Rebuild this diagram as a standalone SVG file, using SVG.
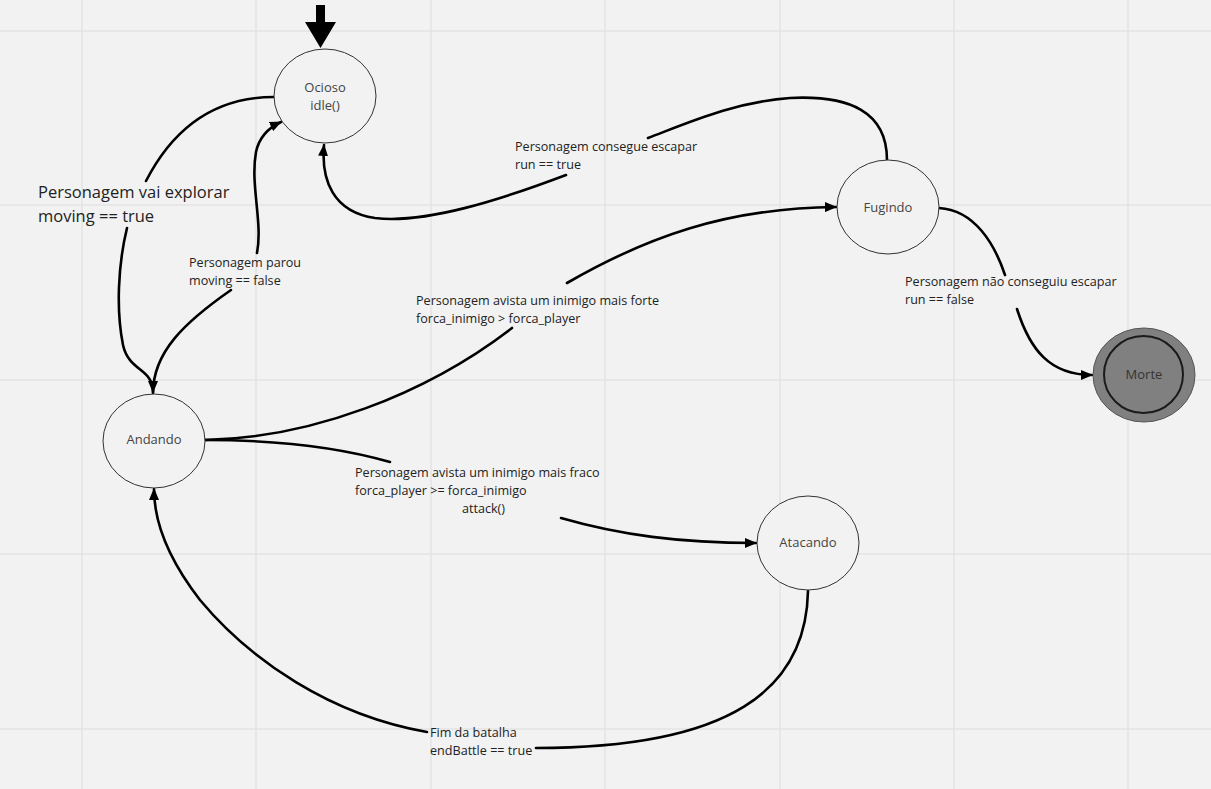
<svg xmlns="http://www.w3.org/2000/svg" width="1211" height="789" viewBox="0 0 1211 789">
  <style>
    .grid line { stroke: #e3e3e3; stroke-width: 1.5; }
    .state { fill: #f2f2f2; stroke: #333; stroke-width: 1; }
    .state-label { font-family: "Open Sans", "Liberation Sans", sans-serif; font-size: 13px; fill: #444; text-anchor: middle; }
    .edge { fill: none; stroke: #000; stroke-width: 2.6; stroke-linecap: round; }
    .edge-label { font-family: "Open Sans", "Liberation Sans", sans-serif; font-size: 12.6px; fill: #222; }
    .big-label { font-family: "Open Sans", "Liberation Sans", sans-serif; font-size: 16.5px; fill: #222; }
  </style>
  <defs>
    <marker id="arrow" viewBox="0 0 12 10" refX="11" refY="5" markerWidth="12" markerHeight="10" markerUnits="userSpaceOnUse" orient="auto">
      <path d="M0,0 L12,5 L0,10 Z" fill="#000"/>
    </marker>
  </defs>

  <!-- canvas -->
  <rect width="1211" height="789" fill="#f2f2f2"/>
  <g class="grid">
    <line x1="82" y1="0" x2="82" y2="789"/>
    <line x1="256" y1="0" x2="256" y2="789"/>
    <line x1="431" y1="0" x2="431" y2="789"/>
    <line x1="605" y1="0" x2="605" y2="789"/>
    <line x1="780" y1="0" x2="780" y2="789"/>
    <line x1="954" y1="0" x2="954" y2="789"/>
    <line x1="1128" y1="0" x2="1128" y2="789"/>
    <line x1="0" y1="31" x2="1211" y2="31"/>
    <line x1="0" y1="205" x2="1211" y2="205"/>
    <line x1="0" y1="380" x2="1211" y2="380"/>
    <line x1="0" y1="554" x2="1211" y2="554"/>
    <line x1="0" y1="729" x2="1211" y2="729"/>
  </g>

  <!-- transitions -->
  <g id="connectors">
    <!-- initial state -->
    <polygon points="316,5 325,5 325,22 336,22 320.5,48 305,22 316,22" fill="#000"/>

    <!-- Ocioso -> Andando -->
    <path class="edge" d="M274,97 C228,97 180,115 146,181"/>
    <path class="edge" d="M127,228 C118,265 116,310 123,345 C129,372 153,368 153,392" marker-end="url(#arrow)"/>

    <!-- Andando -> Ocioso -->
    <path class="edge" d="M153,393 C153,352 185,322 231,290"/>
    <path class="edge" d="M257,253 C263,222 250,185 256,152 C259,138 268,128 281,122" marker-end="url(#arrow)"/>

    <!-- Fugindo -> Ocioso -->
    <path class="edge" d="M887,160 C887,112 850,95 790,98 C735,102 690,122 648,138"/>
    <path class="edge" d="M566,175 C500,200 425,224 375,218 C333,212 321,180 324,145" marker-end="url(#arrow)"/>

    <!-- Andando -> Fugindo -->
    <path class="edge" d="M205,440 C310,438 425,395 512,328"/>
    <path class="edge" d="M567,283 C645,238 725,208 836,207" marker-end="url(#arrow)"/>

    <!-- Andando -> Atacando -->
    <path class="edge" d="M205,440 C285,440 345,449 390,462"/>
    <path class="edge" d="M561,518 C620,535 680,543 756,543" marker-end="url(#arrow)"/>

    <!-- Atacando -> Andando -->
    <path class="edge" d="M808,591 C806,690 730,748 536,748"/>
    <path class="edge" d="M427,732 C330,715 250,660 200,600 C166,556 154,520 154,489" marker-end="url(#arrow)"/>

    <!-- Fugindo -> Morte -->
    <path class="edge" d="M939,208 C975,210 995,245 1005,275"/>
    <path class="edge" d="M1017,309 C1030,350 1050,375 1092,375" marker-end="url(#arrow)"/>
  </g>

  <!-- transition labels -->
  <g id="labels">
    <text class="big-label" x="38" y="198">Personagem vai explorar</text>
    <text class="big-label" x="38" y="222">moving == true</text>
    <text class="edge-label" x="189" y="267">Personagem parou</text>
    <text class="edge-label" x="189" y="285">moving == false</text>
    <text class="edge-label" x="515" y="151">Personagem consegue escapar</text>
    <text class="edge-label" x="515" y="169">run == true</text>
    <text class="edge-label" x="416" y="305">Personagem avista um inimigo mais forte</text>
    <text class="edge-label" x="416" y="323">forca_inimigo &gt; forca_player</text>
    <text class="edge-label" x="355" y="477">Personagem avista um inimigo mais fraco</text>
    <text class="edge-label" x="355" y="495">forca_player &gt;= forca_inimigo</text>
    <text class="edge-label" x="462" y="513">attack()</text>
    <text class="edge-label" x="905" y="286">Personagem não conseguiu escapar</text>
    <text class="edge-label" x="905" y="304">run == false</text>
    <text class="edge-label" x="430" y="737">Fim da batalha</text>
    <text class="edge-label" x="430" y="755">endBattle == true</text>
  </g>

  <!-- states -->
  <g id="ocioso">
    <ellipse class="state" cx="325" cy="96" rx="51" ry="47"/>
    <text class="state-label" x="325" y="92">Ocioso</text>
    <text class="state-label" x="325" y="110">idle()</text>
  </g>
  <g id="fugindo">
    <ellipse class="state" cx="888" cy="207" rx="51" ry="47"/>
    <text class="state-label" x="888" y="212">Fugindo</text>
  </g>
  <g id="andando">
    <ellipse class="state" cx="154" cy="441" rx="51" ry="47"/>
    <text class="state-label" x="154" y="444">Andando</text>
  </g>
  <g id="atacando">
    <ellipse class="state" cx="808" cy="543" rx="51" ry="47"/>
    <text class="state-label" x="808" y="547">Atacando</text>
  </g>
  <g id="morte">
    <ellipse cx="1144" cy="375" rx="51" ry="47" fill="#808080" stroke="#555" stroke-width="1"/>
    <ellipse cx="1143.5" cy="374.5" rx="39.5" ry="38.5" fill="#808080" stroke="#1a1a1a" stroke-width="2"/>
    <text class="state-label" x="1144" y="379" style="fill:#333">Morte</text>
  </g>
</svg>
